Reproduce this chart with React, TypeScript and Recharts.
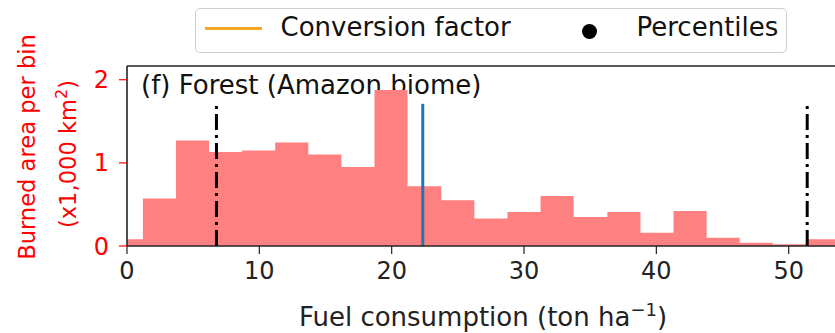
import { ComposedChart, Area, XAxis, YAxis, ReferenceLine } from 'recharts';

// histogram bins: left edges and burned area (x1,000 km2) per bin
const binEdges = [-1.3, 1.2, 3.7, 6.2, 8.7, 11.2, 13.7, 16.2, 18.7, 21.2, 23.75, 26.25, 28.75, 31.25, 33.75, 36.3, 38.8, 41.3, 43.8, 46.3, 48.8, 51.3];
const binValues = [0.08, 0.57, 1.27, 1.13, 1.15, 1.245, 1.1, 0.95, 1.875, 0.72, 0.55, 0.33, 0.41, 0.6, 0.35, 0.41, 0.16, 0.42, 0.1, 0.04, 0.02, 0.08];
const lastEdge = 53.8;

const percentiles = [6.76, 51.4];
const conversionFactor = 22.35;
const markerTop = 1.71;

const xTicks = [0, 10, 20, 30, 40, 50];
const yTicks = [0, 1, 2];
const xMax = 53.5;
const yMax = 2.165;

const histData = [
  ...binEdges.map((x, i) => ({ x, area: binValues[i] })),
  { x: lastEdge, area: binValues[binValues.length - 1] },
];

const FONT = '"DejaVu Sans", sans-serif';
const W = 835;
const H = 333;

export default function App() {
  return (
    <div style={{ position: 'absolute', left: 0, top: 0, width: W, height: H, background: '#fff', fontFamily: FONT }}>
      <ComposedChart
        width={W}
        height={H}
        data={histData}
        margin={{ top: 66, right: 0, bottom: 0, left: 0 }}
      >
        <XAxis
          dataKey="x"
          type="number"
          domain={[0, xMax]}
          allowDataOverflow
          ticks={xTicks}
          height={87}
          tickSize={8}
          tickMargin={8}
          stroke="#222"
          axisLine={{ stroke: '#222', strokeWidth: 1.6 }}
          tickLine={{ stroke: '#222', strokeWidth: 1.2 }}
          tick={{ fill: '#222', fontSize: 24, fontFamily: FONT }}
        />
        <YAxis
          type="number"
          domain={[0, yMax]}
          allowDataOverflow
          ticks={yTicks}
          width={127}
          tickSize={8}
          tickMargin={10}
          axisLine={{ stroke: '#222', strokeWidth: 1.6 }}
          tickLine={{ stroke: 'red', strokeWidth: 1.2 }}
          tick={{ fill: 'red', fontSize: 24, fontFamily: FONT }}
        />
        <Area
          dataKey="area"
          type="stepAfter"
          fill="#ff8080"
          fillOpacity={1}
          stroke="none"
          isAnimationActive={false}
        />
        <ReferenceLine y={yMax} stroke="#222" strokeWidth={1.6} />
        {percentiles.map((p) => (
          <ReferenceLine
            key={p}
            segment={[{ x: p, y: 0 }, { x: p, y: markerTop }]}
            stroke="#000"
            strokeWidth={3}
            strokeDasharray="16 5 3 5"
          />
        ))}
        <ReferenceLine
          segment={[{ x: conversionFactor, y: 0 }, { x: conversionFactor, y: markerTop }]}
          stroke="#1f77b4"
          strokeWidth={3}
        />
        <text x={141} y={94} fontSize={26} fontFamily={FONT} fill="#111">
          (f) Forest (Amazon biome)
        </text>
        <text
          x={35}
          y={147}
          transform="rotate(-90 35 147)"
          textAnchor="middle"
          fontSize={22.6}
          fontFamily={FONT}
          fill="red"
        >
          Burned area per bin
        </text>
        <text
          x={76}
          y={154}
          transform="rotate(-90 76 154)"
          textAnchor="middle"
          fontSize={22.6}
          fontFamily={FONT}
          fill="red"
        >
          (x1,000 km<tspan dy={-9} fontSize={16}>2</tspan><tspan dy={9}>)</tspan>
        </text>
        <text x={483} y={326} textAnchor="middle" fontSize={26} fontFamily={FONT} fill="#222">
          Fuel consumption (ton ha<tspan dy={-10} fontSize={18}>−1</tspan><tspan dy={10}>)</tspan>
        </text>
      </ComposedChart>
      <div
        style={{
          position: 'absolute',
          left: 195,
          top: 8,
          width: 592,
          height: 45,
          boxSizing: 'border-box',
          border: '1.5px solid #d0d0d0',
          borderRadius: 5,
          background: '#fff',
          fontSize: 26,
          color: '#111',
        }}
      >
        <span style={{ position: 'absolute', left: 8.5, top: 18, width: 57, height: 3.3, background: '#f5a623' }} />
        <span style={{ position: 'absolute', left: 84.5, top: 3, whiteSpace: 'nowrap' }}>Conversion factor</span>
        <span style={{ position: 'absolute', left: 386, top: 15, width: 15, height: 15, borderRadius: '50%', background: '#000' }} />
        <span style={{ position: 'absolute', left: 440.5, top: 3, whiteSpace: 'nowrap' }}>Percentiles</span>
      </div>
    </div>
  );
}
